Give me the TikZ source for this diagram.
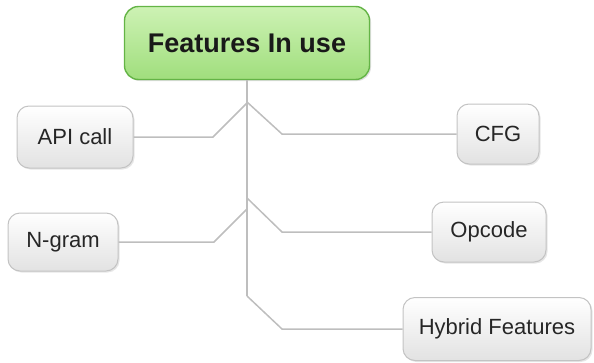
\documentclass[tikz,border=0pt]{standalone}
\usepackage{fontspec}
\setmainfont{Liberation Sans}
\usepackage{xcolor}
\usepackage{tikz}
\usetikzlibrary{positioning, arrows.meta}
\usetikzlibrary{backgrounds,calc,shadows}

\begin{document}
\begin{tikzpicture}[x=1pt, y=-1pt,
        rootbox/.style={draw=rootborder, line width=1.4pt, rounded corners=14pt,
            top color=roottop, bottom color=rootbot,
            drop shadow={shadow xshift=1.5pt, shadow yshift=-1.5pt, opacity=0.25},
            font=\fontsize{27}{30}\selectfont\bfseries, text=black!90},
        leafbox/.style={draw=leafborder, line width=1pt, rounded corners=12pt,
            top color=white, bottom color=leafbot,
            drop shadow={shadow xshift=1.5pt, shadow yshift=-1.5pt, opacity=0.2},
            font=\fontsize{22}{25}\selectfont, text=black!85},
        link/.style={draw=linkgray, line width=1.5pt}]
        % Definizione dei colori
        \definecolor{roottop}{RGB}{205,242,180}
        \definecolor{rootbot}{RGB}{160,222,125}
        \definecolor{rootborder}{RGB}{100,180,70}
        \definecolor{leafbot}{RGB}{226,226,226}
        \definecolor{leafborder}{RGB}{195,195,195}
        \definecolor{linkgray}{RGB}{190,190,190}
        \useasboundingbox (0,0) rectangle (594,362);

        % Nodo principale
        \node (root) at (247,43) [rootbox, minimum width=245pt, minimum height=73pt]{Features In use};

        % Punti di diramazione sul tronco
        \coordinate (jA) at (247,103);
        \coordinate (jC) at (247,102);
        \coordinate (jO) at (247,198);
        \coordinate (jN) at (247,209);
        \coordinate (jH) at (247,296);

        % Foglie
        \node (api) at (75,137) [leafbox, minimum width=116pt, minimum height=62pt]{API call};
        \node (ngram) at (63,242) [leafbox, minimum width=110pt, minimum height=58pt]{N-gram};
        \node (cfg) at (498,134) [leafbox, minimum width=82pt, minimum height=60pt]{CFG};
        \node (opcode) at (489,232) [leafbox, minimum width=114pt, minimum height=60pt]{Opcode};
        \node (hybrid) at (497,329) [leafbox, minimum width=188pt, minimum height=63pt]{Hybrid Features};

        % Collegamenti
        \draw[link] (root.south) -- (jH);
        \draw[link] (jA) -- ++(-34,34) -- (api.east);
        \draw[link] (jN) -- ++(-33,33) -- (ngram.east);
        \draw[link] (jC) -- ++(35,32) -- (cfg.west);
        \draw[link] (jO) -- ++(35,34) -- (opcode.west);
        \draw[link] (jH) -- ++(35,33) -- (hybrid.west);
    \end{tikzpicture}
\end{document}
